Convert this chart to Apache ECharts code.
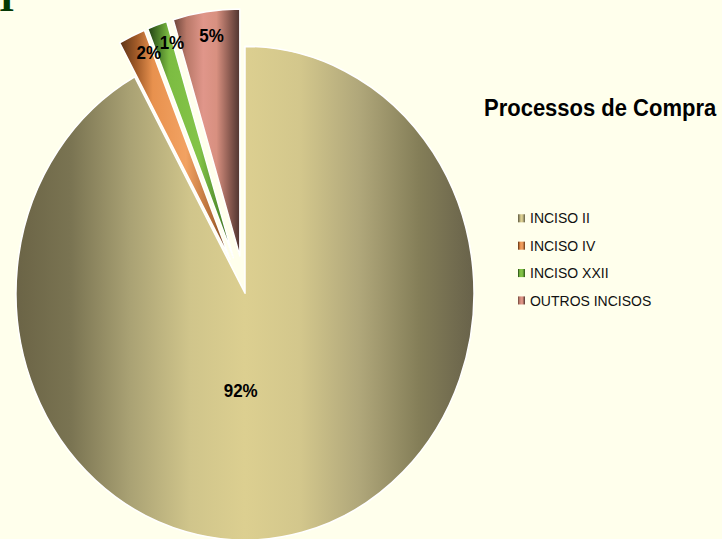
<!DOCTYPE html>
<html>
<head>
<meta charset="utf-8">
<script src="https://cdn.jsdelivr.net/npm/echarts@6/dist/echarts.min.js"></script>
<style>
  html { overflow: hidden; }
  html, body { margin: 0; padding: 0; width: 722px; height: 539px; background: #ffffec; }
  /* the pie in the slide is a bit taller than wide, so stretch the drawing */
  #chart { width: 722px; height: 500px; transform: scaleY(1.078); transform-origin: 0 0; }
</style>
</head>
<body>
<div id="chart"></div>
<script>
var categories = ['INCISO II', 'INCISO IV', 'INCISO XXII', 'OUTROS INCISOS'];
var shares = [92.0, 1.9, 1.4, 4.7];
var chartTitle = 'Processos de Compra';

var font = '"Liberation Sans", Arial, sans-serif';

// horizontal "cylinder" shading of every slice
var shading = [
  [[0, '#6b6446'], [0.12, '#7a7452'], [0.25, '#aaa274'], [0.38, '#d0c58b'], [0.5, '#dccf90'],
   [0.62, '#d3c78c'], [0.75, '#b0a77a'], [0.88, '#847e58'], [1, '#68624a']],
  [[0, '#5a3216'], [0.15, '#a05a28'], [0.3, '#e8914e'], [0.6, '#f2a262'], [0.85, '#b06a34'], [1, '#5a3216']],
  [[0, '#1f3d12'], [0.12, '#4a7a28'], [0.25, '#7cbc42'], [0.6, '#84c448'], [0.85, '#4f8a2a'], [1, '#2a4a18']],
  [[0, '#6a4238'], [0.2, '#b87868'], [0.45, '#e0968a'], [0.65, '#d89080'], [0.85, '#8a5a50'], [1, '#4e3430']]
];

function shade(stops) {
  return new echarts.graphic.LinearGradient(0, 0, 1, 0, stops.map(function (s) {
    return { offset: s[0], color: s[1] };
  }));
}

// move the percent labels from mid radius to where the slide has them
var labelNudge = [[-33.5, -23.7], [-30.9, -84.9], [-22.3, -88.3], [-11, -88]];

var myChart = echarts.init(document.getElementById('chart'), null, { renderer: 'svg' });

myChart.setOption({
  backgroundColor: '#ffffec',
  animation: false,
  title: {
    text: chartTitle,
    left: 484,
    top: 89,
    padding: 0,
    textStyle: { fontSize: 22, fontWeight: 'bold', color: '#000', fontFamily: font }
  },
  legend: {
    orient: 'vertical',
    left: 518,
    top: 195.5,
    padding: 0,
    icon: 'rect',
    itemWidth: 7,
    itemHeight: 7.5,
    itemGap: 11.4,
    selectedMode: false,
    itemStyle: { borderWidth: 0 },
    textStyle: { fontSize: 14, color: '#111', fontFamily: font },
    data: categories
  },
  graphic: [{
    type: 'text',
    left: -1,
    top: -23,
    style: { text: 'I', font: 'bold 40px "Liberation Serif"', fill: '#053805' }
  }],
  series: [{
    type: 'pie',
    center: [245, 272],
    radius: 229,
    startAngle: 90,
    clockwise: true,
    percentPrecision: 0,
    selectedMode: 'multiple',
    selectedOffset: 35,
    avoidLabelOverlap: false,
    emphasis: { disabled: true },
    itemStyle: { borderColor: '#ffffff', borderWidth: 1.5 },
    label: {
      show: true,
      position: 'inside',
      formatter: '{d}%',
      color: '#000',
      fontSize: 17,
      fontWeight: 'bold',
      fontFamily: font
    },
    labelLine: { show: false },
    labelLayout: function (p) {
      var n = labelNudge[p.dataIndex];
      return { dx: n[0], dy: n[1] };
    },
    data: categories.map(function (name, i) {
      return {
        name: name,
        value: shares[i],
        selected: i > 0,
        itemStyle: { color: shade(shading[i]) }
      };
    })
  }]
});
</script>
</body>
</html>
